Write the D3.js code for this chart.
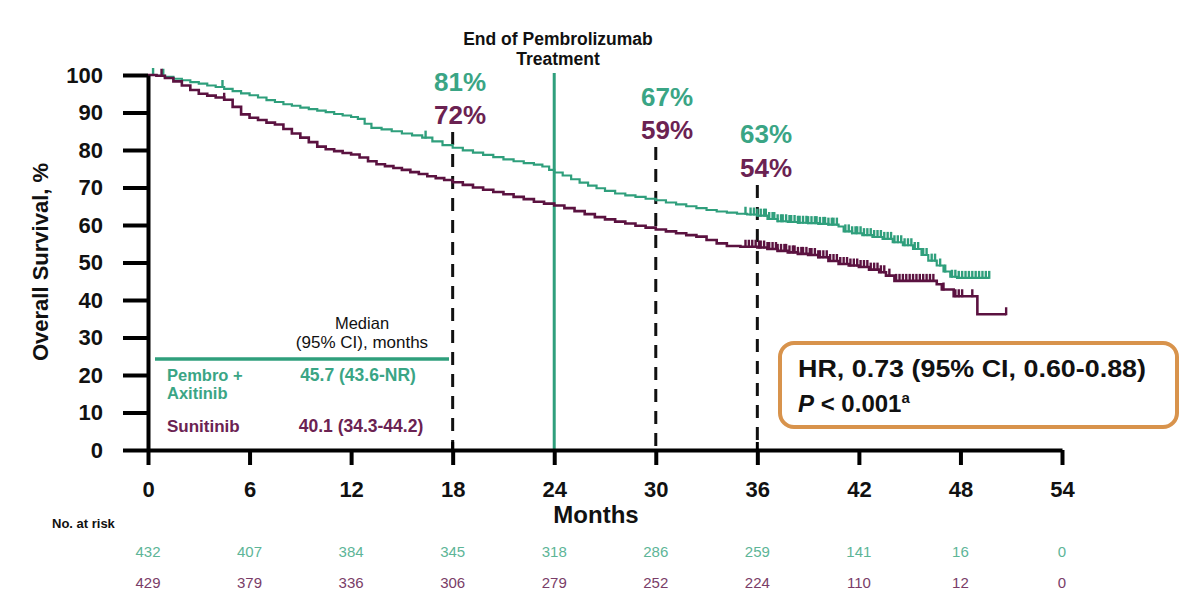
<!DOCTYPE html>
<html><head><meta charset="utf-8">
<script src="https://cdn.jsdelivr.net/npm/d3@7"></script>
<style>
body{margin:0;background:#fff}
svg{display:block;font-family:"Liberation Sans",Arial,sans-serif}
</style>
</head><body>
<svg id="c" width="1200" height="605"></svg>
<script>
const xTicks=[0,6,12,18,24,30,36,42,48,54];
const yTicks=[0,10,20,30,40,50,60,70,80,90,100];

const pembroTime=[0,0.5,1,1.5,2,2.5,3,3.5,4,4.5,5,5.5,6,6.5,7,7.5,8,8.5,9,9.5,10,10.5,11,11.5,12,12.4,12.8,13.2,13.8,14.4,15,15.6,16.2,16.8,17.4,18,18.6,19.2,19.8,20.4,21,21.6,22.2,22.8,23.3,23.7,24,24.5,25,25.5,26,26.5,27,27.6,28.2,28.8,29.4,30,30.6,31.2,31.8,32.4,33,33.6,34.2,34.8,35.4,36,36.6,37.2,37.8,38.4,39,39.6,40.2,40.8,41.1,41.6,42.2,42.8,43.4,44,44.6,45.2,45.7,46.1,46.6,47,47.4,47.8,49.7];
const pembroSurv=[100,99.8,99.5,99.0,98.6,98.1,97.7,97.2,96.8,96.3,95.7,95.1,94.6,94.0,93.3,92.8,92.2,91.8,91.3,90.9,90.5,90.1,89.6,89.2,88.8,88.3,87.0,85.9,85.5,85.0,84.4,83.9,83.3,82.3,81.3,80.6,79.9,79.3,78.7,78.1,77.5,77.0,76.5,76.1,75.6,74.7,74.0,73.2,72.2,71.3,70.5,69.8,69.1,68.4,67.9,67.5,67.0,66.6,66.0,65.5,65.0,64.5,64.0,63.6,63.3,63.0,62.8,62.5,61.6,61.0,60.8,60.6,60.5,60.3,60.1,59.6,58.3,57.8,57.3,56.8,56.3,55.4,54.6,53.6,52.0,50.5,49.2,47.6,46.2,45.9,45.9];
const pembroCensor=[0.3,0.9,4.4,16.4,35.3,35.6,35.8,36.0,36.2,36.4,36.5,36.7,36.9,37.0,37.2,37.4,37.5,37.7,37.9,38.0,38.2,38.4,38.5,38.7,38.9,39.0,39.2,39.4,39.5,39.7,39.9,40.0,40.2,40.4,40.5,40.7,41.2,41.4,41.6,41.8,41.9,42.1,42.3,42.5,42.7,42.9,43.1,43.3,43.5,43.7,43.9,44.1,44.3,44.5,44.7,44.9,45.1,45.3,45.5,45.8,46.0,46.3,46.5,46.8,47.1,47.5,47.7,47.9,48.1,48.3,48.5,48.7,48.9,49.1,49.3,49.5,49.7];

const sunTime=[0,0.5,1,1.5,2,2.5,3,3.5,4,4.5,5,5.5,6,6.5,7,7.5,8,8.5,9,9.5,10,10.5,11,11.5,12,12.5,13,13.5,14,14.5,15,15.5,16,16.5,17,17.5,18,18.6,19.2,19.8,20.4,21,21.6,22.2,22.8,23.4,24,24.6,25.2,25.8,26.4,27,27.6,28.2,28.8,29.4,30,30.6,31.2,31.8,32.4,33,33.6,34.2,35,36,36.6,37.2,37.8,38.4,39,39.6,40.2,40.8,41.4,42,42.6,43.2,43.6,44.1,46.6,46.9,47.6,49.0,50.7];
const sunSurv=[100,99.8,99.2,98.3,97.2,96.0,95.0,94.5,94.0,93.4,91.5,89.5,88.6,88.0,87.3,86.8,85.6,84.4,83.3,82.1,80.9,80.2,79.7,79.2,78.8,78.0,77.0,76.2,75.7,75.2,74.7,74.1,73.6,73.0,72.5,72.0,71.4,70.7,70.0,69.4,68.8,68.2,67.5,66.9,66.2,65.7,65.2,64.5,63.7,62.9,62.1,61.5,60.9,60.4,59.8,59.3,58.8,58.3,57.8,57.3,56.9,56.0,55.1,54.4,54.2,54.0,53.6,53.1,52.7,52.3,52.0,51.4,50.4,49.6,49.2,48.8,48.1,47.4,46.5,45.1,44.2,42.8,41.0,36.2,36.2];
const sunCensor=[0.8,4.5,35.3,35.5,35.7,35.9,36.1,36.2,36.4,36.6,36.7,36.9,37.1,37.2,37.4,37.6,37.7,37.9,38.1,38.2,38.4,38.6,38.7,38.9,39.1,39.2,39.4,39.6,39.7,39.9,40.1,40.3,40.5,40.7,40.9,41.1,41.3,41.5,41.7,41.9,42.1,42.3,42.5,42.7,42.9,43.1,43.3,43.5,43.8,44.2,44.4,44.6,44.8,45.0,45.2,45.4,45.6,45.8,46.0,46.2,46.4,47.0,47.7,47.9,48.1,48.7,50.7];

const riskTimes=[0,6,12,18,24,30,36,42,48,54];
const riskPembro=[432,407,384,345,318,286,259,141,16,0];
const riskSun=[429,379,336,306,279,252,224,110,12,0];

const landmarkTimes=[18,30,36];
const landmarkPembro=["81%","67%","63%"];
const landmarkSun=["72%","59%","54%"];

const GREEN="#2f9f7c", GREEN_T="#3aa585", PURPLE="#5b1240", PURPLE_T="#6b2252", ORANGE="#d8934c";

const svg=d3.select("#c");
const x=d3.scaleLinear().domain([0,54]).range([148,1062]);
const y=d3.scaleLinear().domain([0,100]).range([450,75]);

// dashed landmark lines
const dashTop={18:132,30:147,36:185};
svg.selectAll("line.dash").data(landmarkTimes).join("line")
  .attr("x1",d=>x(d)).attr("x2",d=>x(d)).attr("y1",d=>dashTop[d]).attr("y2",y(0))
  .attr("stroke","#111").attr("stroke-width",3).attr("stroke-dasharray","13,9");

// end of pembro line
svg.append("line").attr("x1",x(24)).attr("x2",x(24)).attr("y1",73).attr("y2",y(0))
  .attr("stroke",GREEN).attr("stroke-width",3);

// curves
const line=d3.line().x(d=>x(d[0])).y(d=>y(d[1])).curve(d3.curveStepAfter);
function stepAt(T,S,t){let v=S[0];for(let i=0;i<T.length;i++){if(T[i]<=t)v=S[i];}return v;}
function drawKM(T,S,C,col,w){
  svg.append("path").attr("d",line(T.map((t,i)=>[t,S[i]]))).attr("fill","none").attr("stroke",col).attr("stroke-width",w);
  svg.selectAll(null).data(C).join("line")
    .attr("x1",d=>x(d)).attr("x2",d=>x(d))
    .attr("y1",d=>y(stepAt(T,S,d))+1).attr("y2",d=>y(stepAt(T,S,d))-7)
    .attr("stroke",col).attr("stroke-width",2.4);
}
drawKM(pembroTime,pembroSurv,pembroCensor,GREEN,2.2);
drawKM(sunTime,sunSurv,sunCensor,PURPLE,2.6);

// axes
const ya=svg.append("g").attr("transform",`translate(${x(0)},0)`)
  .call(d3.axisLeft(y).tickValues(yTicks).tickSize(25).tickSizeOuter(0).tickPadding(20));
const xa=svg.append("g").attr("transform",`translate(0,${y(0)})`)
  .call(d3.axisBottom(x).tickValues(xTicks).tickSize(15).tickSizeOuter(0).tickPadding(16));
[ya,xa].forEach(g=>{
  g.select(".domain").attr("stroke","#000").attr("stroke-width",4);
  g.selectAll(".tick line").attr("stroke","#000").attr("stroke-width",4);
  g.selectAll(".tick text").attr("fill","#111").style("font-size","22px").style("font-weight","bold").style("font-family",'"Liberation Sans",Arial,sans-serif');
});
// small ticks above axis at 18 and 36
svg.selectAll("line.up").data([18,36]).join("line")
  .attr("x1",d=>x(d)).attr("x2",d=>x(d)).attr("y1",y(0)-8).attr("y2",y(0))
  .attr("stroke","#000").attr("stroke-width",3);

function txt(xp,yp,s,o={}){
  return svg.append("text").attr("x",xp).attr("y",yp).text(s)
    .attr("text-anchor",o.a||"start").attr("fill",o.c||"#111")
    .style("font-size",(o.fs||16)+"px").style("font-weight",o.w||"bold");
}
// axis titles
txt(596,523,"Months",{a:"middle",fs:24});
svg.append("text").attr("transform","translate(48,262) rotate(-90)").attr("text-anchor","middle")
  .attr("fill","#111").style("font-size","22px").style("font-weight","bold").text("Overall Survival, %");

// top annotation
txt(558,45,"End of Pembrolizumab",{a:"middle",fs:17.5});
txt(558,65,"Treatment",{a:"middle",fs:17.5});

// landmark percentages
const pctPos={18:[460,91,124],30:[667,106,139],36:[766,143,177]};
landmarkTimes.forEach((t,i)=>{
  const p=pctPos[t];
  txt(p[0],p[1],landmarkPembro[i],{a:"middle",fs:26,c:GREEN_T});
  txt(p[0],p[2],landmarkSun[i],{a:"middle",fs:26,c:PURPLE_T});
});

// legend
txt(362,329,"Median",{a:"middle",fs:16.5,w:"normal"});
txt(362,348,"(95% CI), months",{a:"middle",fs:17,w:"normal"});
svg.append("line").attr("x1",155).attr("x2",449).attr("y1",359).attr("y2",359).attr("stroke",GREEN).attr("stroke-width",3.5);
txt(167,381,"Pembro +",{fs:16.5,c:GREEN_T});
txt(167,399,"Axitinib",{fs:16.5,c:GREEN_T});
txt(358,381,"45.7 (43.6-NR)",{a:"middle",fs:17.5,c:GREEN_T});
txt(167,432,"Sunitinib",{fs:17,c:PURPLE_T});
txt(361,432,"40.1 (34.3-44.2)",{a:"middle",fs:17.5,c:PURPLE_T});

// HR box
svg.append("rect").attr("x",780).attr("y",343).attr("width",397).attr("height",84).attr("rx",14)
  .attr("fill","#fff").attr("stroke",ORANGE).attr("stroke-width",4);
txt(798,377,"HR, 0.73 (95% CI, 0.60-0.88)",{fs:24}).attr("textLength",348).attr("lengthAdjust","spacingAndGlyphs");
const pt=txt(798,412,"",{fs:24});
pt.append("tspan").style("font-style","italic").text("P");
pt.append("tspan").text(" < 0.001");
pt.append("tspan").attr("dy",-9).style("font-size","15px").text("a");

// risk table
txt(52,528,"No. at risk",{fs:13});
svg.selectAll("text.rp").data(riskTimes).join("text")
  .attr("x",d=>x(d)).attr("y",557).attr("text-anchor","middle").attr("fill","#5db597")
  .style("font-size","15px").text((d,i)=>riskPembro[i]);
svg.selectAll("text.rs").data(riskTimes).join("text")
  .attr("x",d=>x(d)).attr("y",588).attr("text-anchor","middle").attr("fill","#7a3d68")
  .style("font-size","15px").text((d,i)=>riskSun[i]);
</script>
</body></html>
